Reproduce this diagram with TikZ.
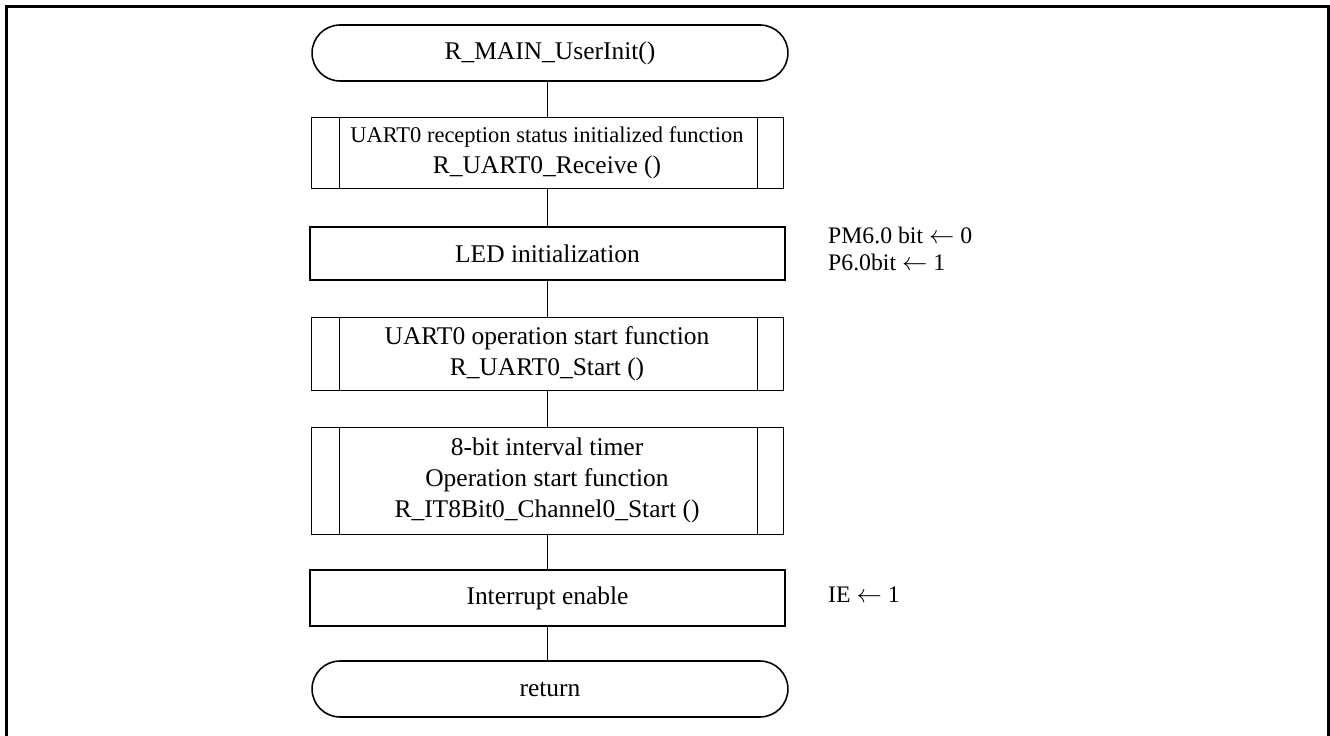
\documentclass[tikz,border=0pt]{standalone}
\usepackage{fontspec}
\setmainfont{Liberation Serif}
\tikzset{
  term/.style={draw,line width=0.9pt,rounded corners=0.56cm,minimum width=9.52cm,minimum height=1.12cm,font=\fontsize{14.5}{17}\selectfont},
  proc/.style={draw,line width=0.9pt,minimum width=9.5cm,font=\fontsize{14.5}{17}\selectfont},
  subproc/.style={draw,line width=0.5pt,minimum width=9.44cm,align=center,font=\fontsize{14.5}{17.5}\selectfont,
    path picture={\draw[line width=0.5pt] ([xshift=0.56cm]path picture bounding box.north west) -- ([xshift=0.56cm]path picture bounding box.south west)
      ([xshift=-0.52cm]path picture bounding box.north east) -- ([xshift=-0.52cm]path picture bounding box.south east);}},
  note/.style={anchor=west,align=left,font=\fontsize{13.5}{15.5}\selectfont}
}
\begin{document}
\begin{tikzpicture}[x=0.02cm,y=-0.02cm]
	\useasboundingbox (0,0) rectangle (1330,736);
	%FRAME
	\draw[line width=1.7pt] (6.5,740) -- (6.5,6.5) -- (1328.5,6.5) -- (1328.5,740);
	%FLOW
	\node[term] (start) at (550,53) {R\_MAIN\_UserInit()};
	\node[subproc,minimum height=1.42cm] (recv) at (547,152.5) {{\fontsize{12.8}{15}\selectfont UART0 reception status initialized function}\\R\_UART0\_Receive ()};
	\node[proc,minimum height=1.06cm] (led) at (547.5,253.5) {LED initialization};
	\node[subproc,minimum height=1.46cm] (uartstart) at (547,353.5) {UART0 operation start function\\R\_UART0\_Start ()};
	\node[subproc,minimum height=2.14cm] (itstart) at (547,480.5) {8-bit interval timer\\Operation start function\\R\_IT8Bit0\_Channel0\_Start ()};
	\node[proc,minimum height=1.12cm] (intena) at (547.5,598) {Interrupt enable};
	\node[term] (ret) at (550,689) {return};
	%NOTES
	\node[note] (lednote) at (822,249) {PM6.0 bit $\leftarrow$ 0\\P6.0bit $\leftarrow$ 1};
	\node[note] (ienote) at (822,595) {IE $\leftarrow$ 1};
	%LINES
	\draw[line width=0.9pt] (start.south -| led) -- (recv.north -| led);
	\draw[line width=0.9pt] (recv.south -| led) -- (led.north);
	\draw[line width=0.9pt] (led.south) -- (uartstart.north -| led);
	\draw[line width=0.9pt] (uartstart.south -| led) -- (itstart.north -| led);
	\draw[line width=0.9pt] (itstart.south -| led) -- (intena.north);
	\draw[line width=0.9pt] (intena.south) -- (ret.north -| led);
\end{tikzpicture}
\end{document}
